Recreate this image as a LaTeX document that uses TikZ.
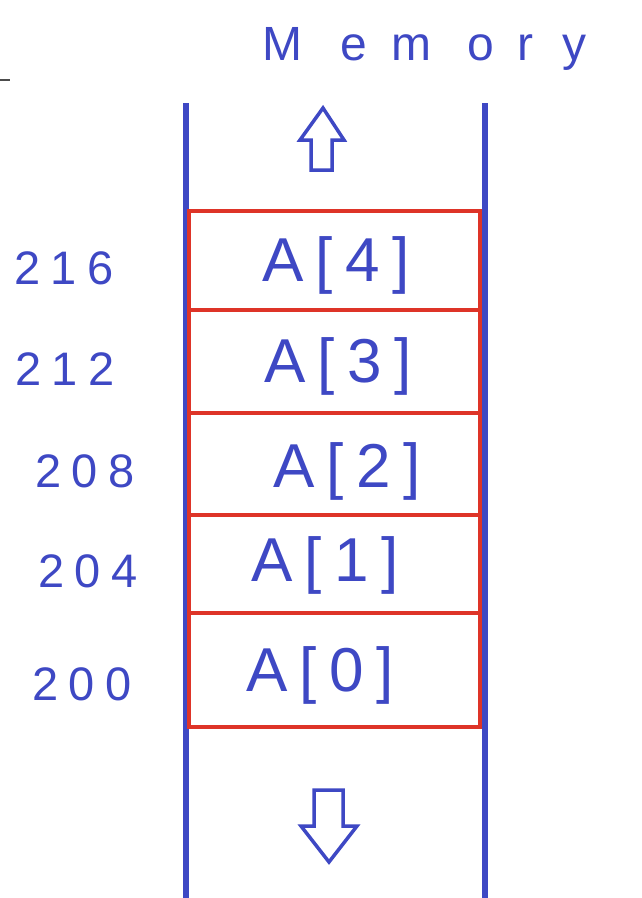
\documentclass[tikz,border=0pt]{standalone}
\usepackage{fontspec}
\setmainfont{Liberation Sans}
\newfontfamily\cellfont[LetterSpace=20]{Liberation Sans}
\newfontfamily\addrfont[LetterSpace=22]{Liberation Sans}
\definecolor{penblue}{RGB}{62,72,196}
\definecolor{penred}{RGB}{222,52,40}
\begin{document}
\begin{tikzpicture}[x=1pt,y=-1pt,
  wall/.style={penblue,line width=6pt},
  cell/.style={draw=penred,line width=4pt,rectangle,inner sep=0pt,minimum width=291pt},
  lbl/.style={text=penblue,anchor=base west,inner sep=0pt,font=\cellfont\fontsize{62}{62}\selectfont},
  addr/.style={text=penblue,anchor=base west,inner sep=0pt,font=\addrfont\fontsize{47}{47}\selectfont},
  hollow/.style={draw=penblue,line width=3.5pt,line join=miter}]
\fill[white] (0,0) rectangle (642,898);
\useasboundingbox (0,0) rectangle (642,898);
% stray mark
\draw[black!70,line width=1.5pt] (0,80) -- (10,80);
% title
\node[text=penblue,anchor=base west,inner sep=0pt,font=\fontsize{48}{48}\selectfont] (mem) at (262,60) {M\kern38pt e\kern25pt m\kern36pt o\kern23pt r\kern29pt y};
% memory walls
\coordinate (lt) at (186,103); \coordinate (lb) at (186,898);
\coordinate (rt) at (485,103); \coordinate (rb) at (485,898);
\draw[wall] (lt) -- (lb);
\draw[wall] (rt) -- (rb);
% cells
\node[cell,minimum height=99pt]  (c4) at (334.5,260.5) {};
\node[cell,minimum height=103pt] (c3) at (334.5,361.5) {};
\node[cell,minimum height=102pt] (c2) at (334.5,464) {};
\node[cell,minimum height=98pt]  (c1) at (334.5,564) {};
\node[cell,minimum height=114pt] (c0) at (334.5,670) {};
% cell labels
\node[lbl] (a4) at (262,281) {A[4]};
\node[lbl] (a3) at (264,382) {A[3]};
\node[lbl] (a2) at (273,487) {A[2]};
\node[lbl] (a1) at (251,581) {A[1]};
\node[lbl] (a0) at (246,691) {A[0]};
% addresses
\node[addr] (d216) at (14,284) {216};
\node[addr] (d212) at (15,385) {212};
\node[addr] (d208) at (35,487) {208};
\node[addr] (d204) at (38,587) {204};
\node[addr] (d200) at (32,700) {200};
% hollow arrows
\draw[hollow] (323,108) -- (344,140) -- (332,140) -- (332,170) -- (311,170) -- (311,140) -- (300,140) -- cycle;
\draw[hollow] (314,790) -- (343,790) -- (343,826) -- (357,826) -- (329,862) -- (301,826) -- (314,826) -- cycle;
\end{tikzpicture}
\end{document}
